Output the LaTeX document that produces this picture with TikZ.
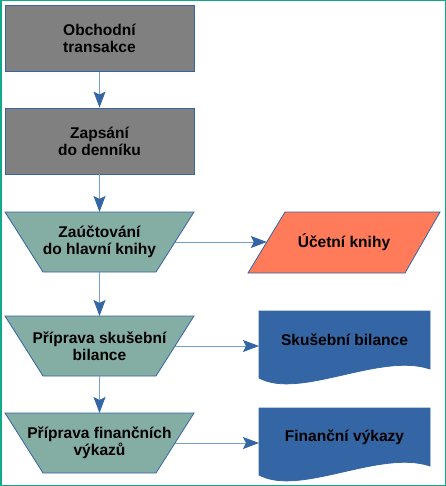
\documentclass[tikz,border=0pt]{standalone}
\usepackage{fontspec}
\setmainfont{Liberation Sans}
\usetikzlibrary{arrows.meta}
\definecolor{frameteal}{HTML}{12A88C}
\definecolor{boxgray}{HTML}{808080}
\definecolor{trapfill}{HTML}{84ADA4}
\definecolor{coralfill}{HTML}{FF7B59}
\definecolor{docblue}{HTML}{3465A4}
\definecolor{edgeblue}{HTML}{3465A4}
\definecolor{shaftblue}{HTML}{729FCF}
\begin{document}
\begin{tikzpicture}[x=1bp,y=-1bp,
  lbl/.style={font=\bfseries\fontsize{15.6}{17}\selectfont, align=center, text=black, inner sep=0pt},
  graybox/.style={lbl, draw=edgeblue, line width=0.8bp, fill=boxgray, minimum width=189bp, minimum height=66bp},
  trapshape/.style={draw=edgeblue, line width=0.8bp, fill=trapfill},
  paraShape/.style={draw=edgeblue, line width=0.8bp, fill=coralfill},
  docshape/.style={draw=edgeblue, line width=0.8bp, fill=docblue},
  conn/.style={draw=shaftblue, line width=1bp, -{Stealth[length=16bp,width=12bp,inset=3bp,color=docblue]}}
]
\useasboundingbox (0,0) rectangle (446,486);
\draw[frameteal, line width=1.5bp] (0.75,0.75) rectangle (445.25,485.25);

% gray boxes
\node[graybox] (b1) at (99.5,38.5) {Obchodní\\transakce};
\node[graybox] (b2) at (99.5,141) {Zapsání\\do denníku};

% trapezoids
\draw[trapshape] (5,212) -- (194,212) -- (156,272) -- (43,272) -- cycle;
\node[lbl] (t1) at (99.5,242) {Zaúčtování\\do hlavní knihy};
\coordinate (t1n) at (99.5,212);
\coordinate (t1s) at (99.5,272);
\coordinate (t1e) at (175,242);

\draw[trapshape] (5,316) -- (194,316) -- (156,376) -- (43,376) -- cycle;
\node[lbl] (t2) at (99.5,346) {Příprava skušební\\bilance};
\coordinate (t2n) at (99.5,316);
\coordinate (t2s) at (99.5,376);
\coordinate (t2e) at (175,346);

\draw[trapshape] (5,413) -- (194,413) -- (156,473) -- (43,473) -- cycle;
\node[lbl] (t3) at (99.5,443) {Příprava finančních\\výkazů};
\coordinate (t3n) at (99.5,413);
\coordinate (t3e) at (175,443);

% parallelogram
\draw[paraShape] (285,212) -- (440,212) -- (405,273) -- (248,273) -- cycle;
\node[lbl] (p) at (344,242.5) {Účetní knihy};
\coordinate (pw) at (266.8,242);

% documents
\draw[docshape] (259,311) -- (430,311) -- (430,369) .. controls (380,352) and (300,400) .. (259,378) -- cycle;
\node[lbl] (d1) at (344.5,340) {Skušební bilance};
\coordinate (d1w) at (259,346);

\draw[docshape] (259,408) -- (430,408) -- (430,466) .. controls (380,449) and (300,497) .. (259,475) -- cycle;
\node[lbl] (d2) at (344.5,437) {Finanční výkazy};
\coordinate (d2w) at (259,443);

% connectors
\draw[conn] (b1.south) -- (b2.north);
\draw[conn] (b2.south) -- (t1n);
\draw[conn] (t1s) -- (t2n);
\draw[conn] (t2s) -- (t3n);
\draw[conn] (t1e) -- (pw);
\draw[conn] (t2e) -- (d1w);
\draw[conn] (t3e) -- (d2w);
\end{tikzpicture}
\end{document}
